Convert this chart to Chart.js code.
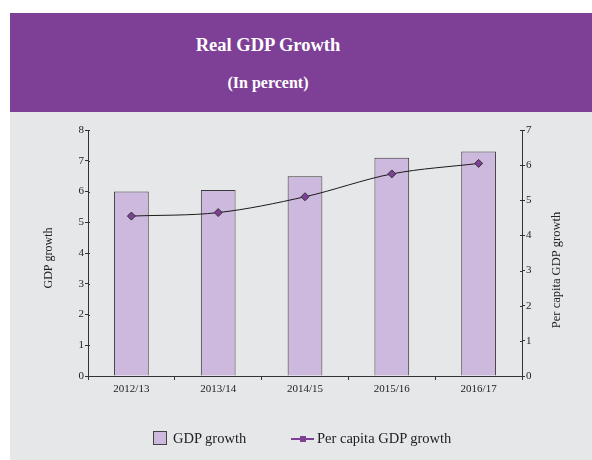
<!DOCTYPE html>
<html>
<head>
<meta charset="utf-8">
<script src="https://cdn.jsdelivr.net/npm/chart.js@4/dist/chart.umd.min.js"></script>
<style>
  html, body { margin: 0; padding: 0; background: #fff; }
  body { width: 592px; height: 460px; position: relative; overflow: hidden; font-family: 'Liberation Serif', 'Times New Roman', serif; }
  .panel { position: absolute; left: 10px; top: 13px; width: 582px; height: 447px; background: #E6E7E9; }
  .header { position: absolute; left: 10px; top: 13px; width: 582px; height: 99px; background: #7E3F96; }
  .title, .subtitle { position: absolute; left: 10px; width: 516px; text-align: center; color: #fff; font-weight: bold; line-height: 1; white-space: nowrap; }
  .title { top: 36px; font-size: 18.5px; }
  .subtitle { top: 75px; font-size: 16px; }
  .chart-wrap { position: absolute; left: 10px; top: 112px; width: 582px; height: 348px; }
  .legend { position: absolute; left: 0; top: 0; width: 592px; height: 460px; pointer-events: none; color: #222; font-size: 14.5px; }
  .legend span { position: absolute; }
  .lg-box { left: 153px; top: 431px; width: 12px; height: 12px; background: #CDB9DD; border: 1px solid #444; }
  .lg-text { top: 430px; line-height: 16px; white-space: nowrap; }
  .lg-line { left: 291px; top: 438px; width: 23px; height: 2px; background: #7E3F96; }
  .lg-dot { left: 300px; top: 436px; width: 6px; height: 6px; background: #7E3F96; }
</style>
</head>
<body>
<div class="panel"></div>
<div class="header"></div>
<div class="title">Real GDP Growth</div>
<div class="subtitle">(In percent)</div>
<div class="chart-wrap"><canvas id="gdp-chart"></canvas></div>
<div class="legend">
  <span class="lg-box"></span><span class="lg-text" style="left:173px;">GDP growth</span>
  <span class="lg-line"></span><span class="lg-dot"></span><span class="lg-text" style="left:317px;">Per capita GDP growth</span>
</div>
<script>
const years = ['2012/13', '2013/14', '2014/15', '2015/16', '2016/17'];
const gdpGrowth = [6.0, 6.05, 6.5, 7.1, 7.3];
const perCapitaGrowth = [4.55, 4.65, 5.1, 5.75, 6.05];

const AXIS = '#333';
const TICK_FONT = { family: "'Liberation Serif', serif", size: 11 };

// rotated axis titles, both reading bottom-to-top
const axisTitles = {
  id: 'axisTitles',
  afterDraw(chart) {
    const { ctx, chartArea } = chart;
    const mid = (chartArea.top + chartArea.bottom) / 2;
    const draw = (text, x, y, size) => {
      ctx.save();
      ctx.translate(x, y);
      ctx.rotate(-Math.PI / 2);
      ctx.font = size + "px 'Liberation Serif', serif";
      ctx.fillStyle = '#222';
      ctx.textAlign = 'center';
      ctx.textBaseline = 'middle';
      ctx.fillText(text, 0, 0);
      ctx.restore();
    };
    draw('GDP growth', chartArea.left - 39, mid + 5, 12);
    draw('Per capita GDP growth', chartArea.right + 35, mid + 17, 12.5);
  }
};

// short tick marks on the inner side of both value axes
const innerTicks = {
  id: 'innerTicks',
  afterDraw(chart) {
    const { ctx } = chart;
    ctx.save();
    ctx.strokeStyle = AXIS;
    ctx.lineWidth = 1;
    ['y', 'y1'].forEach((id) => {
      const s = chart.scales[id];
      const x = id === 'y' ? s.right : s.left;
      const dir = id === 'y' ? 1 : -1;
      s.ticks.forEach((t, i) => {
        const py = Math.round(s.getPixelForTick(i)) + 0.5;
        ctx.beginPath();
        ctx.moveTo(x, py);
        ctx.lineTo(x + dir * 2, py);
        ctx.stroke();
      });
    });
    ctx.restore();
  }
};

new Chart(document.getElementById('gdp-chart'), {
  data: {
    labels: years,
    datasets: [
      {
        type: 'line',
        label: 'Per capita GDP growth',
        data: perCapitaGrowth,
        yAxisID: 'y1',
        order: 0,
        borderColor: '#1a1a1a',
        borderWidth: 1,
        cubicInterpolationMode: 'monotone',
        pointStyle: 'rectRot',
        pointRadius: 4,
        pointBackgroundColor: '#7E3F96',
        pointBorderColor: '#333',
        pointBorderWidth: 1,
      },
      {
        type: 'bar',
        label: 'GDP growth',
        data: gdpGrowth,
        yAxisID: 'y',
        order: 1,
        backgroundColor: '#CDB9DD',
        borderColor: '#3a3a3a',
        borderWidth: 1,
        categoryPercentage: 1,
        barPercentage: 0.4,
      },
    ],
  },
  options: {
    responsive: true,
    maintainAspectRatio: false,
    animation: false,
    layout: { padding: { top: 18, left: 0, right: 0, bottom: 0 } },
    plugins: {
      legend: { display: false },
      tooltip: { enabled: true },
    },
    scales: {
      x: {
        offset: true,
        grid: { offset: true, drawOnChartArea: false, drawTicks: true, tickLength: 4, color: AXIS },
        border: { color: AXIS, width: 1 },
        ticks: { color: '#222', font: TICK_FONT, padding: 3, maxRotation: 0 },
        afterFit: (s) => { s.height = 84; },
      },
      y: {
        position: 'left',
        min: 0, max: 8,
        grid: { drawOnChartArea: false, tickLength: 3, color: AXIS },
        border: { color: AXIS, width: 1 },
        ticks: { stepSize: 1, color: '#222', font: TICK_FONT, padding: 1 },
        afterFit: (s) => { s.width = 78; },
      },
      y1: {
        position: 'right',
        min: 0, max: 7,
        grid: { drawOnChartArea: false, tickLength: 3, color: AXIS },
        border: { color: AXIS, width: 1 },
        ticks: { stepSize: 1, color: '#222', font: TICK_FONT, padding: 1 },
        afterFit: (s) => { s.width = 70; },
      },
    },
  },
  plugins: [axisTitles, innerTicks],
});
</script>
</body>
</html>
